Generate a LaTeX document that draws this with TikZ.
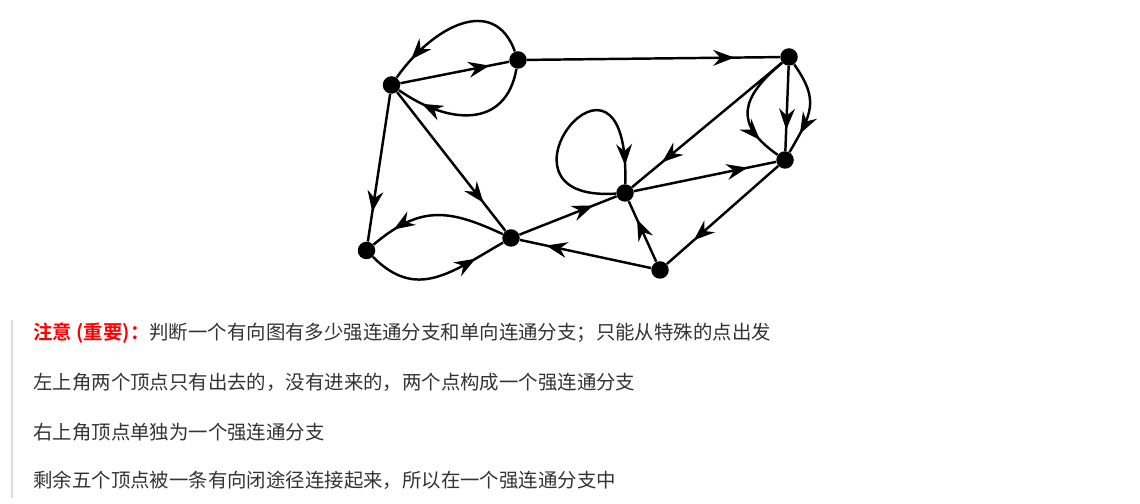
\documentclass[tikz,border=0pt]{standalone}
\usepackage{fontspec}
\newfontfamily\cjk{Noto Sans CJK SC}[BoldFont={Noto Sans CJK SC Bold}]
\usetikzlibrary{arrows.meta,decorations.markings}
\definecolor{txtgray}{HTML}{333333}
\definecolor{bargray}{HTML}{DDDDDD}
\definecolor{notered}{HTML}{FF0000}
\begin{document}
\begin{tikzpicture}[
    vertex/.style={circle,fill=black,inner sep=0pt,minimum size=0.35cm},
    arc/.style={line width=1.4pt,postaction={decorate},
        decoration={markings,mark=at position #1 with {\arrow{Stealth[length=12pt,width=9pt,inset=4pt]}}}},
    arc/.default=0.8,
    note/.style={anchor=west,inner sep=0pt,text=txtgray,font=\cjk\fontsize{11.05pt}{13pt}\selectfont}
  ]
    \useasboundingbox (0,0) rectangle (22.8,10.08);

    % vertices
    \node[vertex] (A) at (7.83,8.38) {};
    \node[vertex] (B) at (10.36,8.88) {};
    \node[vertex] (C) at (15.78,8.94) {};
    \node[vertex] (D) at (15.70,6.88) {};
    \node[vertex] (E) at (12.50,6.22) {};
    \node[vertex] (F) at (7.33,5.07) {};
    \node[vertex] (G) at (10.22,5.32) {};
    \node[vertex] (H) at (13.20,4.68) {};

    % upper left pair
    \draw[arc=0.82] (A) -- (B);
    \draw[arc=0.85] (B) to[out=110,in=55,looseness=1.3] (A);
    \draw[arc=0.82] (B) to[out=-100,in=-35,looseness=1.3] (A);
    \draw[arc=0.8] (A) -- (F);
    \draw[arc=0.8] (A) -- (G);
    \draw[arc=0.82] (B) -- (C);

    % lower left pair
    \draw[arc=0.82] (G) to[out=155,in=40,looseness=1.2] (F);
    \draw[arc=0.78] (F) to[out=-45,in=-150,looseness=1.2] (G);

    % right part
    \draw[arc=0.76] (G) -- (E);
    \draw[arc=0.8] (H) -- (G);
    \draw[arc=0.7] (H) -- (E);
    \draw[arc=0.8] (E) -- (D);
    \draw[arc=0.8] (C) -- (E);
    \draw[arc=0.75] (C) -- (D);
    \draw[arc=0.8] (C) to[out=-140,in=145,looseness=1.5] (D);
    \draw[arc=0.78] (C) to[out=-55,in=60,looseness=1.3] (D);
    \draw[arc=0.76] (D) -- (H);
    \draw[arc=0.92] (E) .. controls +(-3.0,-0.2) and +(0.1,3.7) .. (E);

    % notes
    \draw[bargray,line width=0.9pt] (0.24,3.68) -- (0.24,0.12);
    \node[note] (n1) at (0.66,3.42) {\textcolor{notered}{\bfseries 注意 (重要)：}判断一个有向图有多少强连通分支和单向连通分支；只能从特殊的点出发};
    \node[note] (n2) at (0.66,2.44) {左上角两个顶点只有出去的，没有进来的，两个点构成一个强连通分支};
    \node[note] (n3) at (0.66,1.44) {右上角顶点单独为一个强连通分支};
    \node[note] (n4) at (0.66,0.48) {剩余五个顶点被一条有向闭途径连接起来，所以在一个强连通分支中};
\end{tikzpicture}
\end{document}
